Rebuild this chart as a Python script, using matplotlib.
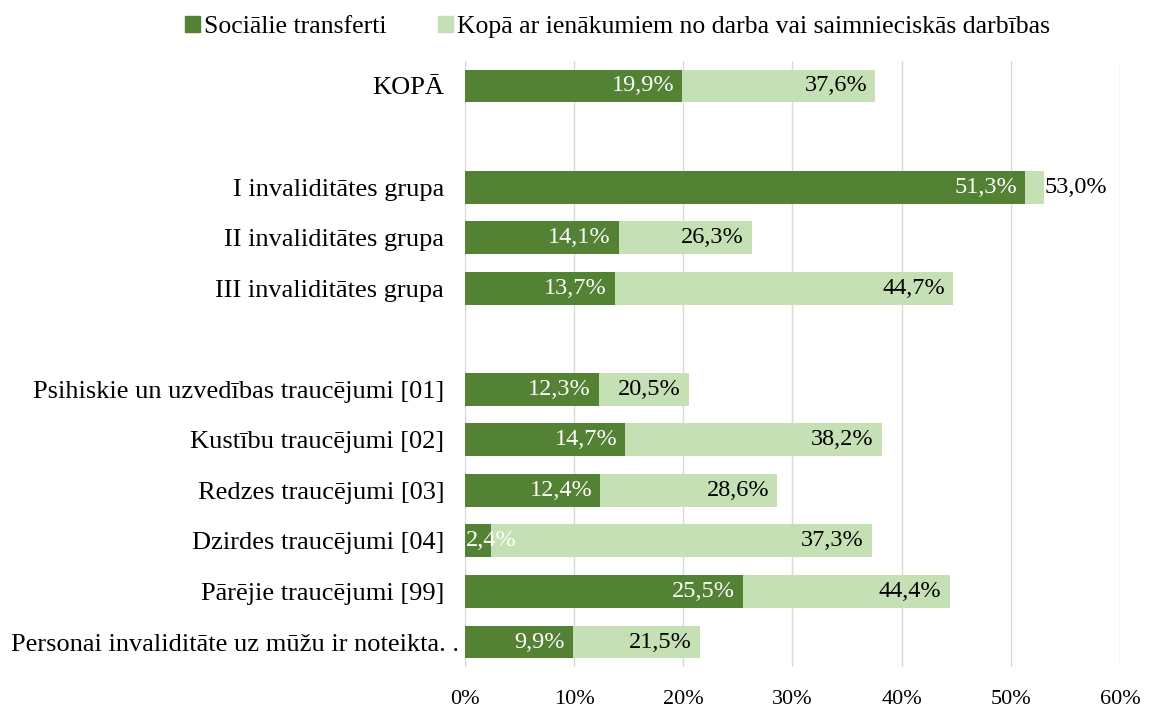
import matplotlib
matplotlib.use("Agg")
import matplotlib.pyplot as plt
import matplotlib.transforms as mtransforms
import numpy as np

plt.rcParams.update({
    "font.family": ["Liberation Serif", "DejaVu Serif"],
    "font.size": 17.5,
})

DARK = "#548235"
LIGHT = "#C5E0B4"
GRID = "#D9D9D9"

categories = [
    "KOPĀ", "",
    "I invaliditātes grupa", "II invaliditātes grupa", "III invaliditātes grupa", "",
    "Psihiskie un uzvedības traucējumi [01]", "Kustību traucējumi [02]",
    "Redzes traucējumi [03]", "Dzirdes traucējumi [04]", "Pārējie traucējumi [99]",
    "Personai invaliditāte uz mūžu ir noteikta. .",
]
social = [19.9, None, 51.3, 14.1, 13.7, None, 12.3, 14.7, 12.4, 2.4, 25.5, 9.9]
total = [37.6, None, 53.0, 26.3, 44.7, None, 20.5, 38.2, 28.6, 37.3, 44.4, 21.5]

fig = plt.figure(figsize=(11.52, 7.14), dpi=100)
ax = fig.add_axes([465 / 1152, 1 - 667.3 / 714, 655 / 1152, 606.6 / 714])

y = np.arange(len(categories))
h = 0.65
fmt = lambda v: f"{v:.1f}%".replace(".", ",")
for yi, s, t in zip(y, social, total):
    if s is None:
        continue
    ax.barh(yi, t, h, color=LIGHT, zorder=2)
    ax.barh(yi, s, h, color=DARK, zorder=3)
    if s < 4:
        ax.text(0.1, yi, fmt(s), ha="left", va="center", color="white", zorder=4)
    else:
        ax.text(s - 0.75, yi, fmt(s), ha="right", va="center", color="white", zorder=4)
    if t - s < 5:
        ax.text(t + 0.1, yi, fmt(t), ha="left", va="center", color="black", zorder=4)
    else:
        ax.text(t - 0.75, yi, fmt(t), ha="right", va="center", color="black", zorder=4)

ax.set_xlim(0, 60)
ax.set_ylim(len(categories) - 0.5, -0.5)
ax.set_xticks(np.arange(0, 61, 10))
ax.set_xticklabels([f"{v}%" for v in range(0, 61, 10)], fontsize=16)
ax.set_yticks(y)
ax.set_yticklabels(categories, fontsize=19)
ax.tick_params(length=0)
ax.tick_params(axis="x", pad=16)
ax.tick_params(axis="y", pad=15)
ax.grid(axis="x", color=GRID, linewidth=1, zorder=0)
ax.set_axisbelow(True)
for sp in ax.spines.values():
    sp.set_visible(False)

# long last label runs close to the bars, as in the original
last = ax.get_yticklabels()[-1]
last.set_transform(last.get_transform() + mtransforms.ScaledTranslation(11 / 72, 0, fig.dpi_scale_trans))

handles = [plt.Rectangle((0, 0), 1, 1, color=DARK), plt.Rectangle((0, 0), 1, 1, color=LIGHT)]
fig.legend(handles, ["Sociālie transferti", "Kopā ar ienākumiem no darba vai saimnieciskās darbības"],
           loc="upper center", bbox_to_anchor=(0.536, 1.01), ncol=2, frameon=False, fontsize=18.5,
           handlelength=0.6, handleheight=0.6, handletextpad=0.15, columnspacing=2.0)

fig.savefig("out.png", dpi=100)
